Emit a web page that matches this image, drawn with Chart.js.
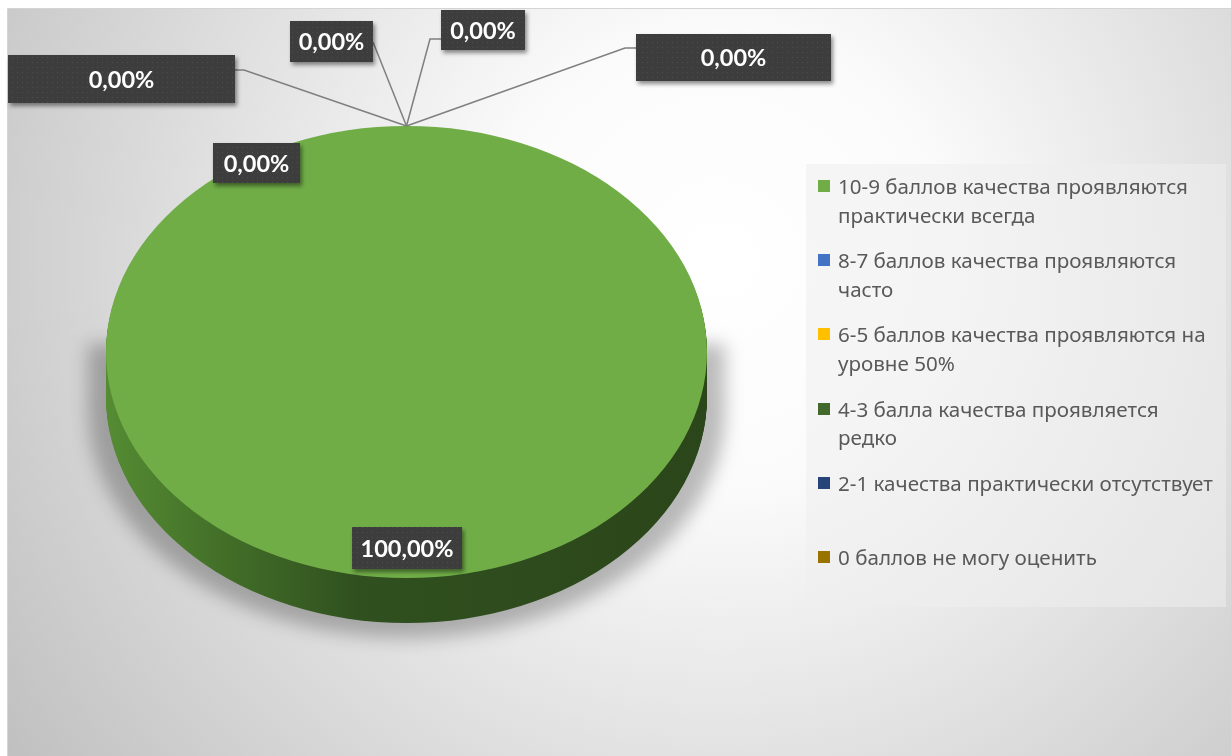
<!DOCTYPE html>
<html>
<head>
<meta charset="utf-8">
<script src="https://cdn.jsdelivr.net/npm/chart.js@4/dist/chart.umd.min.js"></script>
<style>
  body { margin: 0; background: #fff; overflow: hidden; }
  #wrap { position: relative; width: 1231px; height: 756px; }
  #legend {
    position: absolute; left: 806px; top: 164px; width: 420px; height: 443px;
    background: rgba(238, 238, 238, 0.55);
    font-family: "Noto Sans", "Open Sans", sans-serif; font-size: 20.6px; color: #595959;
  }
  .item { position: absolute; left: 12px; line-height: 28.5px; white-space: nowrap; }
  .item .box { position: absolute; left: 0; top: 8px; width: 12px; height: 12px; }
  .item .txt { position: absolute; left: 20px; top: 0; }
</style>
</head>
<body>
<div id="wrap">
  <canvas id="pieChart" width="1231" height="756"></canvas>
  <div id="legend"></div>
</div>
<script>
const categories = [
  ["10-9 баллов качества проявляются", "практически всегда"],
  ["8-7 баллов качества проявляются", "часто"],
  ["6-5 баллов качества проявляются на", "уровне 50%"],
  ["4-3 балла качества проявляется", "редко"],
  ["2-1 качества практически отсутствует"],
  ["0 баллов не могу оценить"]
];
const values = [100, 0, 0, 0, 0, 0];
const colors = ["#70ad47", "#4472c4", "#ffc000", "#43682b", "#264478", "#997300"];

// where Excel put each data label (box) and its leader line
const labelBoxes = [
  { x: 352, y: 527, w: 110, h: 42, line: null },
  { x: 213, y: 143, w: 87, h: 40, line: null },
  { x: 8, y: 55, w: 227, h: 48, line: [[235, 70], [244, 70]] },
  { x: 290, y: 21, w: 83, h: 41, line: [[373, 42]] },
  { x: 441, y: 10, w: 84, h: 40, line: [[441, 39], [430, 39]] },
  { x: 636, y: 34, w: 195, h: 47, line: [[636, 48], [625, 48]] }
];

const TILT = 0.752;      // vertical squash of the pie
const ELLIPSE_CY = 352;  // centre of the top face on screen
const DEPTH = 45;        // thickness of the pie

// legend
const legendEl = document.getElementById("legend");
categories.forEach((lines, i) => {
  const item = document.createElement("div");
  item.className = "item";
  item.style.top = (8 + i * 74.2) + "px";
  item.innerHTML = '<div class="box" style="background:' + colors[i] + '"></div>' +
    '<div class="txt">' + lines.join("<br>") + "</div>";
  legendEl.appendChild(item);
});

function makeDotPattern(ctx) {
  const c = document.createElement("canvas");
  c.width = 5; c.height = 5;
  const p = c.getContext("2d");
  p.fillStyle = "#3d3d3d";
  p.fillRect(0, 0, 5, 5);
  p.fillStyle = "#4d4d4d";
  p.fillRect(2, 2, 1, 1);
  return ctx.createPattern(c, "repeat");
}

function screenY(arc, y) {
  return ELLIPSE_CY + (y - arc.y) * TILT;
}

const pie3d = {
  id: "pie3d",
  beforeDraw(chart) {
    const ctx = chart.ctx;
    ctx.save();
    ctx.fillStyle = "#ffffff";
    ctx.fillRect(0, 0, chart.width, chart.height);
    const bg = ctx.createRadialGradient(720, 260, 0, 720, 260, 900);
    bg.addColorStop(0, "#ffffff");
    bg.addColorStop(0.25, "#fbfbfb");
    bg.addColorStop(1, "#bdbdbd");
    ctx.fillStyle = bg;
    ctx.fillRect(8, 9, chart.width - 8, chart.height - 9);
    ctx.strokeStyle = "#d4d4d4";
    ctx.lineWidth = 1;
    ctx.beginPath();
    ctx.moveTo(7.5, chart.height);
    ctx.lineTo(7.5, 8.5);
    ctx.lineTo(chart.width, 8.5);
    ctx.stroke();
    ctx.restore();
  },
  beforeDatasetsDraw(chart) {
    const ctx = chart.ctx;
    const arcs = chart.getDatasetMeta(0).data;
    const a0 = arcs[0];
    const rx = a0.outerRadius;
    const ry = rx * TILT;

    // soft cast shadow behind the cylinder
    ctx.save();
    ctx.filter = "blur(9px)";
    ctx.fillStyle = "rgba(0,0,0,0.26)";
    ctx.beginPath();
    ctx.moveTo(a0.x - rx - 18, ELLIPSE_CY - 8);
    ctx.lineTo(a0.x - rx - 18, ELLIPSE_CY + 58);
    ctx.ellipse(a0.x, ELLIPSE_CY + 58, rx + 18, ry + 2, 0, Math.PI, 0, true);
    ctx.lineTo(a0.x + rx + 18, ELLIPSE_CY - 8);
    ctx.closePath();
    ctx.fill();
    ctx.restore();

    const side = ctx.createLinearGradient(a0.x - rx, 0, a0.x + rx, 0);
    side.addColorStop(0, "#558c33");
    side.addColorStop(0.2, "#426e28");
    side.addColorStop(0.42, "#30501f");
    side.addColorStop(1, "#2b461a");
    for (let d = DEPTH; d >= 1; d--) {
      ctx.save();
      ctx.translate(0, ELLIPSE_CY + d);
      ctx.scale(1, TILT);
      ctx.translate(0, -a0.y);
      ctx.fillStyle = side;
      arcs.forEach(arc => {
        if (arc.endAngle - arc.startAngle <= 0) return;
        ctx.beginPath();
        ctx.moveTo(arc.x, arc.y);
        ctx.arc(arc.x, arc.y, arc.outerRadius, arc.startAngle, arc.endAngle);
        ctx.closePath();
        ctx.fill();
      });
      ctx.restore();
    }
    // top face: let Chart.js draw it squashed
    ctx.save();
    ctx.translate(0, ELLIPSE_CY);
    ctx.scale(1, TILT);
    ctx.translate(0, -a0.y);
  },
  afterDatasetsDraw(chart) {
    chart.ctx.restore();
  },
  afterDraw(chart) {
    const ctx = chart.ctx;
    const arcs = chart.getDatasetMeta(0).data;
    const pattern = makeDotPattern(ctx);
    ctx.save();
    arcs.forEach((arc, i) => {
      const b = labelBoxes[i];
      if (b.line) {
        const ax = arc.x + arc.outerRadius * Math.cos(arc.startAngle);
        const ay = screenY(arc, arc.y + arc.outerRadius * Math.sin(arc.startAngle));
        ctx.strokeStyle = "#7f7f7f";
        ctx.lineWidth = 1.5;
        ctx.beginPath();
        ctx.moveTo(b.line[0][0], b.line[0][1]);
        b.line.slice(1).forEach(p => ctx.lineTo(p[0], p[1]));
        ctx.lineTo(ax, ay);
        ctx.stroke();
      }
      ctx.save();
      ctx.shadowColor = "rgba(0,0,0,0.45)";
      ctx.shadowBlur = 4;
      ctx.shadowOffsetX = 2;
      ctx.shadowOffsetY = 3;
      ctx.fillStyle = pattern;
      ctx.fillRect(b.x, b.y, b.w, b.h);
      ctx.restore();
      ctx.fillStyle = "#ffffff";
      ctx.font = "bold 23.5px Lato, 'Open Sans', sans-serif";
      ctx.textAlign = "center";
      ctx.textBaseline = "middle";
      const txt = values[i].toFixed(2).replace(".", ",") + "%";
      ctx.fillText(txt, b.x + b.w / 2, b.y + b.h / 2 + 1);
    });
    ctx.restore();
  }
};

new Chart(document.getElementById("pieChart"), {
  type: "pie",
  data: {
    labels: categories,
    datasets: [{
      data: values,
      backgroundColor: colors,
      borderWidth: 0
    }]
  },
  options: {
    responsive: false,
    animation: false,
    events: [],
    layout: { padding: { left: 106, right: 524, top: 60, bottom: 95 } },
    plugins: {
      legend: { display: false },
      tooltip: { enabled: false }
    }
  },
  plugins: [pie3d]
});
</script>
</body>
</html>
